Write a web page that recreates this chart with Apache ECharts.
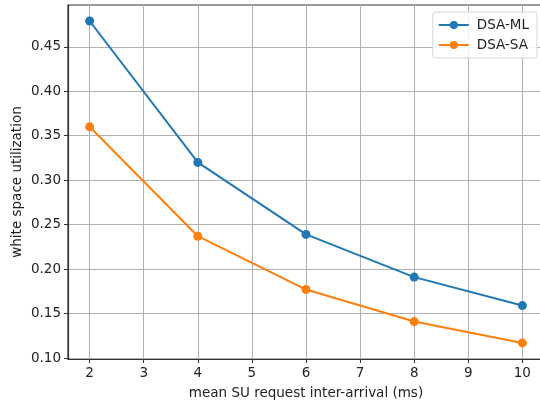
<!DOCTYPE html>
<html>
<head>
<meta charset="utf-8">
<script src="https://cdn.jsdelivr.net/npm/echarts@6/dist/echarts.min.js"></script>
<style>
  html, body { margin: 0; padding: 0; background: #fff; overflow: hidden; }
  #wrap { width: 540px; height: 402px; overflow: hidden; position: relative; }
  #chart { width: 544px; height: 402px; position: absolute; left: 0; top: 0; }
</style>
</head>
<body>
<div id="wrap"><div id="chart"></div></div>
<script>
// data
var interArrival = [2, 4, 6, 8, 10];
var dsaML = [0.479, 0.320, 0.239, 0.191, 0.159];
var dsaSA = [0.360, 0.237, 0.177, 0.141, 0.117];
var xTicks = [2, 3, 4, 5, 6, 7, 8, 9, 10];
var yTicks = [0.10, 0.15, 0.20, 0.25, 0.30, 0.35, 0.40, 0.45];

function pairs(xs, ys) {
    return xs.map(function (x, i) { return [x, ys[i]]; });
}

var font = 'DejaVu Sans';
// the plot runs a few px past the right edge of the window, like the original
var myChart = echarts.init(document.getElementById('chart'), null, { renderer: 'canvas' });
var option = {
    animation: false,
    backgroundColor: '#fff',
    textStyle: { fontFamily: font },
    grid: {
        left: 68, top: 5, right: 0, bottom: 43,
        show: true, borderColor: '#333', borderWidth: 1.2,
        containLabel: false,
        outerBoundsMode: 'none'
    },
    legend: {
        orient: 'vertical',
        right: 7, top: 12,
        padding: [6, 8, 6, 5],
        itemGap: 6,
        itemWidth: 30, itemHeight: 10,
        backgroundColor: 'rgba(255,255,255,0.85)',
        borderColor: '#d6d6d6', borderWidth: 1, borderRadius: 3,
        textStyle: { fontFamily: font, fontSize: 13.5, color: '#222', padding: [0, 0, 0, 3] },
        data: ['DSA-ML', 'DSA-SA']
    },
    xAxis: {
        type: 'value',
        min: 1.6, max: 10.4,
        name: 'mean SU request inter-arrival (ms)',
        nameLocation: 'middle', nameGap: 27,
        nameMoveOverlap: false,
        nameTextStyle: { fontFamily: font, fontSize: 13.5, color: '#222' },
        axisLine: { show: true, lineStyle: { color: '#333', width: 1.2 } },
        axisTick: { show: true, length: 4, customValues: xTicks, lineStyle: { color: '#333' } },
        axisLabel: { customValues: xTicks, margin: 7, fontSize: 13.5, color: '#222', fontFamily: font },
        splitLine: { show: true, lineStyle: { color: '#b0b0b0', width: 1 } }
    },
    yAxis: {
        type: 'value',
        min: 0.0989, max: 0.497,
        name: 'white space utilization',
        nameLocation: 'middle', nameGap: 44,
        nameMoveOverlap: false,
        nameTextStyle: { fontFamily: font, fontSize: 13.5, color: '#222' },
        axisLine: { show: true, lineStyle: { color: '#333', width: 1.2 } },
        axisTick: { show: true, length: 4, customValues: yTicks, lineStyle: { color: '#333' } },
        axisLabel: {
            customValues: yTicks, margin: 7, fontSize: 13.5, color: '#222', fontFamily: font,
            formatter: function (v) { return v.toFixed(2); }
        },
        splitLine: { show: true, lineStyle: { color: '#b0b0b0', width: 1 } }
    },
    series: [
        {
            name: 'DSA-ML',
            type: 'line',
            data: pairs(interArrival, dsaML),
            color: '#1f77b4',
            symbol: 'circle', symbolSize: 9,
            lineStyle: { width: 2 }
        },
        {
            name: 'DSA-SA',
            type: 'line',
            data: pairs(interArrival, dsaSA),
            color: '#ff7f0e',
            symbol: 'circle', symbolSize: 9,
            lineStyle: { width: 2 }
        }
    ]
};
myChart.setOption(option);
</script>
</body>
</html>
